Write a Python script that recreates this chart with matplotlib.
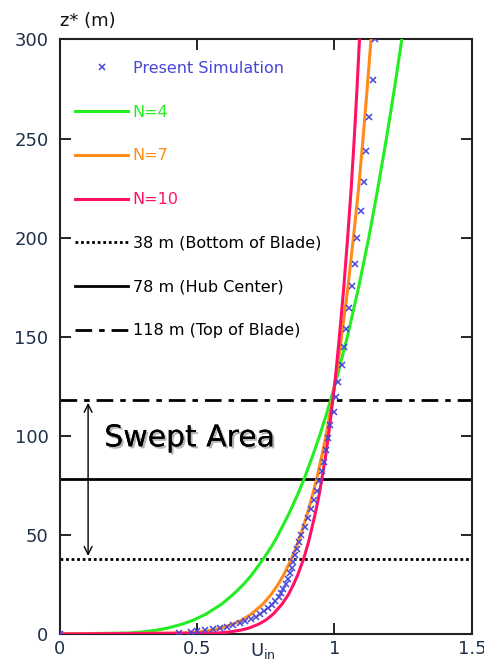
import matplotlib.pyplot as plt
import matplotlib.patheffects as pe

# heights (m) used for the analytical profiles
z_prof = [0, 0.5, 1, 2, 3, 5, 7, 10, 15, 20, 25, 30, 38, 45, 50, 60, 70, 78,
          90, 100, 110, 118, 130, 150, 175, 200, 225, 250, 275, 300]

u_n4 = [0, 0.252, 0.299, 0.356, 0.394, 0.447, 0.487, 0.532, 0.589, 0.632,
        0.669, 0.700, 0.742, 0.775, 0.795, 0.832, 0.865, 0.889, 0.921, 0.946,
        0.969, 0.986, 1.010, 1.047, 1.088, 1.125, 1.158, 1.189, 1.218, 1.245]
u_n7 = [0, 0.454, 0.502, 0.554, 0.587, 0.631, 0.663, 0.697, 0.739, 0.770,
        0.795, 0.816, 0.844, 0.864, 0.877, 0.900, 0.920, 0.935, 0.954, 0.969,
        0.982, 0.992, 1.006, 1.026, 1.049, 1.069, 1.088, 1.104, 1.119, 1.133]
u_n10 = [0, 0.576, 0.617, 0.661, 0.689, 0.725, 0.750, 0.777, 0.809, 0.833,
         0.851, 0.867, 0.888, 0.903, 0.912, 0.929, 0.944, 0.954, 0.968, 0.978,
         0.987, 0.994, 1.004, 1.018, 1.034, 1.048, 1.061, 1.072, 1.082, 1.091]

# present simulation (crosses)
z_sim = [0, 0.3, 0.8, 1.3, 1.8, 2.4, 3.0, 3.7, 4.5, 5.4, 6.4, 7.5, 8.7, 10.0,
         11.5, 13.0, 14.7, 16.5, 18.5, 20.6, 22.9, 25.3, 27.9, 30.6, 33.5,
         36.5, 39.7, 43.0, 46.5, 50.0, 54.0, 58.5, 63.0, 67.5, 72.0, 77.0,
         82.0, 87.0, 93.0, 99.0, 105.5, 112.0, 119.8, 127.3, 135.5, 144.8,
         154.0, 164.5, 175.4, 186.9, 199.6, 213.6, 228.0, 243.6, 261.0,
         279.8, 300.0]
u_sim = [0.0, 0.435, 0.48, 0.50, 0.53, 0.56, 0.585, 0.61, 0.632, 0.655,
         0.675, 0.695, 0.713, 0.730, 0.745, 0.758, 0.772, 0.785, 0.797, 0.806,
         0.814, 0.822, 0.830, 0.838, 0.845, 0.851, 0.857, 0.864, 0.872, 0.880,
         0.893, 0.905, 0.916, 0.926, 0.935, 0.944, 0.954, 0.962, 0.970, 0.977,
         0.984, 0.998, 1.005, 1.014, 1.026, 1.036, 1.041, 1.053, 1.064, 1.073,
         1.083, 1.095, 1.106, 1.116, 1.127, 1.139, 1.147]

blade_z = [38, 78, 118]
blade_labels = ['38 m (Bottom of Blade)', '78 m (Hub Center)', '118 m (Top of Blade)']

xticks = [0, 0.5, 1, 1.5]
xticklabels = ['0', '0.5', '1', '1.5']
yticks = [0, 50, 100, 150, 200, 250, 300]

c_green = '#22ee22'
c_orange = '#ff8c1a'
c_red = '#ff1166'
c_blue = '#4646d8'
c_tick = '#20304a'

fig = plt.figure(figsize=(4.85, 6.68), dpi=100)
ax = fig.add_axes([0.1227, 0.0509, 0.8503, 0.8900])

ax.plot(u_sim, z_sim, 'x', color=c_blue, ms=5, mew=1.1, label='Present Simulation', zorder=5)
ax.plot(u_n4, z_prof, color=c_green, lw=2.2, label='N=4', zorder=3)
ax.plot(u_n7, z_prof, color=c_orange, lw=2.2, label='N=7', zorder=3)
ax.plot(u_n10, z_prof, color=c_red, lw=2.2, label='N=10', zorder=3)

ax.axhline(blade_z[0], color='black', lw=2, ls=(0, (1, 1)), label=blade_labels[0])
ax.axhline(blade_z[1], color='black', lw=2, ls='-', label=blade_labels[1])
ax.axhline(blade_z[2], color='black', lw=2, ls=(0, (6, 2.5, 2, 2.5)), label=blade_labels[2])

ax.set_xlim(0, 1.5)
ax.set_ylim(0, 300)
ax.set_xticks(xticks)
ax.set_xticklabels(xticklabels)
ax.set_yticks(yticks)
ax.tick_params(direction='in', length=8, width=1.2, top=True, right=True,
               labelsize=13, labelcolor=c_tick)
ax.tick_params(axis='y', pad=8)
ax.tick_params(axis='x', pad=4)
for s in ax.spines.values():
    s.set_linewidth(1.5)
    s.set_color('#222222')

# swept area arrow and label
ax.annotate('', xy=(0.104, blade_z[2]), xytext=(0.104, blade_z[0]),
            arrowprops=dict(arrowstyle='<->', color='black', lw=1, mutation_scale=14))
ax.text(0.163, 99, 'Swept Area', fontsize=21.5, va='center', ha='left',
        path_effects=[pe.withSimplePatchShadow(offset=(1.5, -1.5), shadow_rgbFace='#888888', alpha=0.6),
                      pe.Normal()])

leg = ax.legend(loc='upper left', bbox_to_anchor=(0.015, 0.98), frameon=False,
                fontsize=11.5, handlelength=3.3, handletextpad=0.3,
                labelspacing=1.8, borderaxespad=0.2)
text_colors = [c_blue, c_green, c_orange, c_red, 'black', 'black', 'black']
for t, c in zip(leg.get_texts(), text_colors):
    t.set_color(c)

fig.text(0.124, 0.968, 'z* (m)', fontsize=13, color='#111111', va='center', ha='left')
ax.text(0.74, -0.012, r'U$_{\mathrm{in}}$', transform=ax.get_xaxis_transform(),
        fontsize=13, color=c_tick, ha='center', va='top')

fig.savefig('out.png', dpi=100)
